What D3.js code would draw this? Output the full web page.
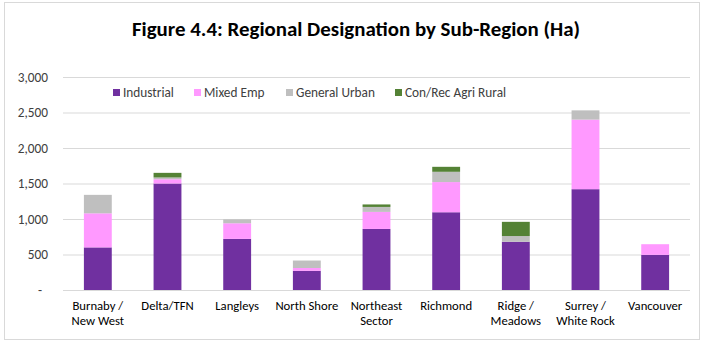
<!DOCTYPE html>
<html><head><meta charset="utf-8">
<script src="https://cdn.jsdelivr.net/npm/d3@7"></script>
<style>body{margin:0;background:#fff}svg{display:block}</style>
</head><body><svg id="c" width="708" height="344"></svg>
<script>
const categories = ["Burnaby /\nNew West","Delta/TFN","Langleys","North Shore","Northeast\nSector","Richmond","Ridge /\nMeadows","Surrey /\nWhite Rock","Vancouver"];
const seriesNames = ["Industrial","Mixed Emp","General Urban","Con/Rec Agri Rural"];
const industrial = [600,1500,720,270,860,1095,680,1420,495];
const mixedEmp = [480,60,220,40,240,425,0,980,150];
const generalUrban = [260,25,55,105,70,145,80,130,0];
const conRecAgri = [0,65,0,0,35,70,200,0,0];
const yTicks = [0,500,1000,1500,2000,2500,3000];
const colors = ["#7030A0","#FF99FF","#BFBFBF","#548235"];

const rows = categories.map((c,i)=>({cat:c, "Industrial":industrial[i], "Mixed Emp":mixedEmp[i], "General Urban":generalUrban[i], "Con/Rec Agri Rural":conRecAgri[i]}));
const svg = d3.select("#c");
const font = "Calibri, Carlito, sans-serif";
svg.append("rect").attr("x",4.5).attr("y",2.5).attr("width",695).attr("height",337).attr("fill","#fff").attr("stroke","#d9d9d9");

const x = d3.scaleBand().domain(categories).range([63,690]).paddingInner(0.6).paddingOuter(0.3);
const y = d3.scaleLinear().domain([0,3000]).range([290,77]);

svg.append("text").attr("x",356).attr("y",35.5).attr("text-anchor","middle").attr("font-family",font).attr("font-weight","bold").attr("font-size",20.9).attr("fill","#000").text("Figure 4.4: Regional Designation by Sub-Region (Ha)");

const yAxis = svg.append("g").attr("transform","translate(63,0)").call(d3.axisLeft(y).tickValues(yTicks).tickSize(-627).tickFormat(d=>d===0?"-":d3.format(",")(d)));
yAxis.select(".domain").remove();
yAxis.selectAll(".tick line").attr("stroke","#d9d9d9");
yAxis.selectAll(".tick text").attr("x",-15).attr("font-family",font).attr("font-size",13.3).attr("fill","#404040");
yAxis.selectAll(".tick").filter(d=>d===0).select("text").attr("x",-21);

const stack = d3.stack().keys(seriesNames)(rows);
svg.append("g").selectAll("g").data(stack).join("g").attr("fill",(d,i)=>colors[i])
  .selectAll("rect").data(d=>d).join("rect")
  .attr("x",d=>x(d.data.cat)).attr("width",x.bandwidth())
  .attr("y",d=>y(d[1])).attr("height",d=>y(d[0])-y(d[1]));

const xl = svg.append("g");
categories.forEach(c=>{
  const t = xl.append("text").attr("x",x(c)+x.bandwidth()/2).attr("y",310).attr("text-anchor","middle").attr("font-family",font).attr("font-size",12.7).attr("fill","#000");
  c.split("\n").forEach((s,j)=>t.append("tspan").attr("x",x(c)+x.bandwidth()/2).attr("dy",j?15:0).text(s));
});

const legX = [113,194,286,395];
const leg = svg.append("g");
seriesNames.forEach((n,i)=>{
  leg.append("rect").attr("x",legX[i]).attr("y",89).attr("width",7).attr("height",7).attr("fill",colors[i]);
  leg.append("text").attr("x",legX[i]+10).attr("y",97).attr("font-family",font).attr("font-size",13.3).attr("fill","#404040").text(n);
});
</script></body></html>
